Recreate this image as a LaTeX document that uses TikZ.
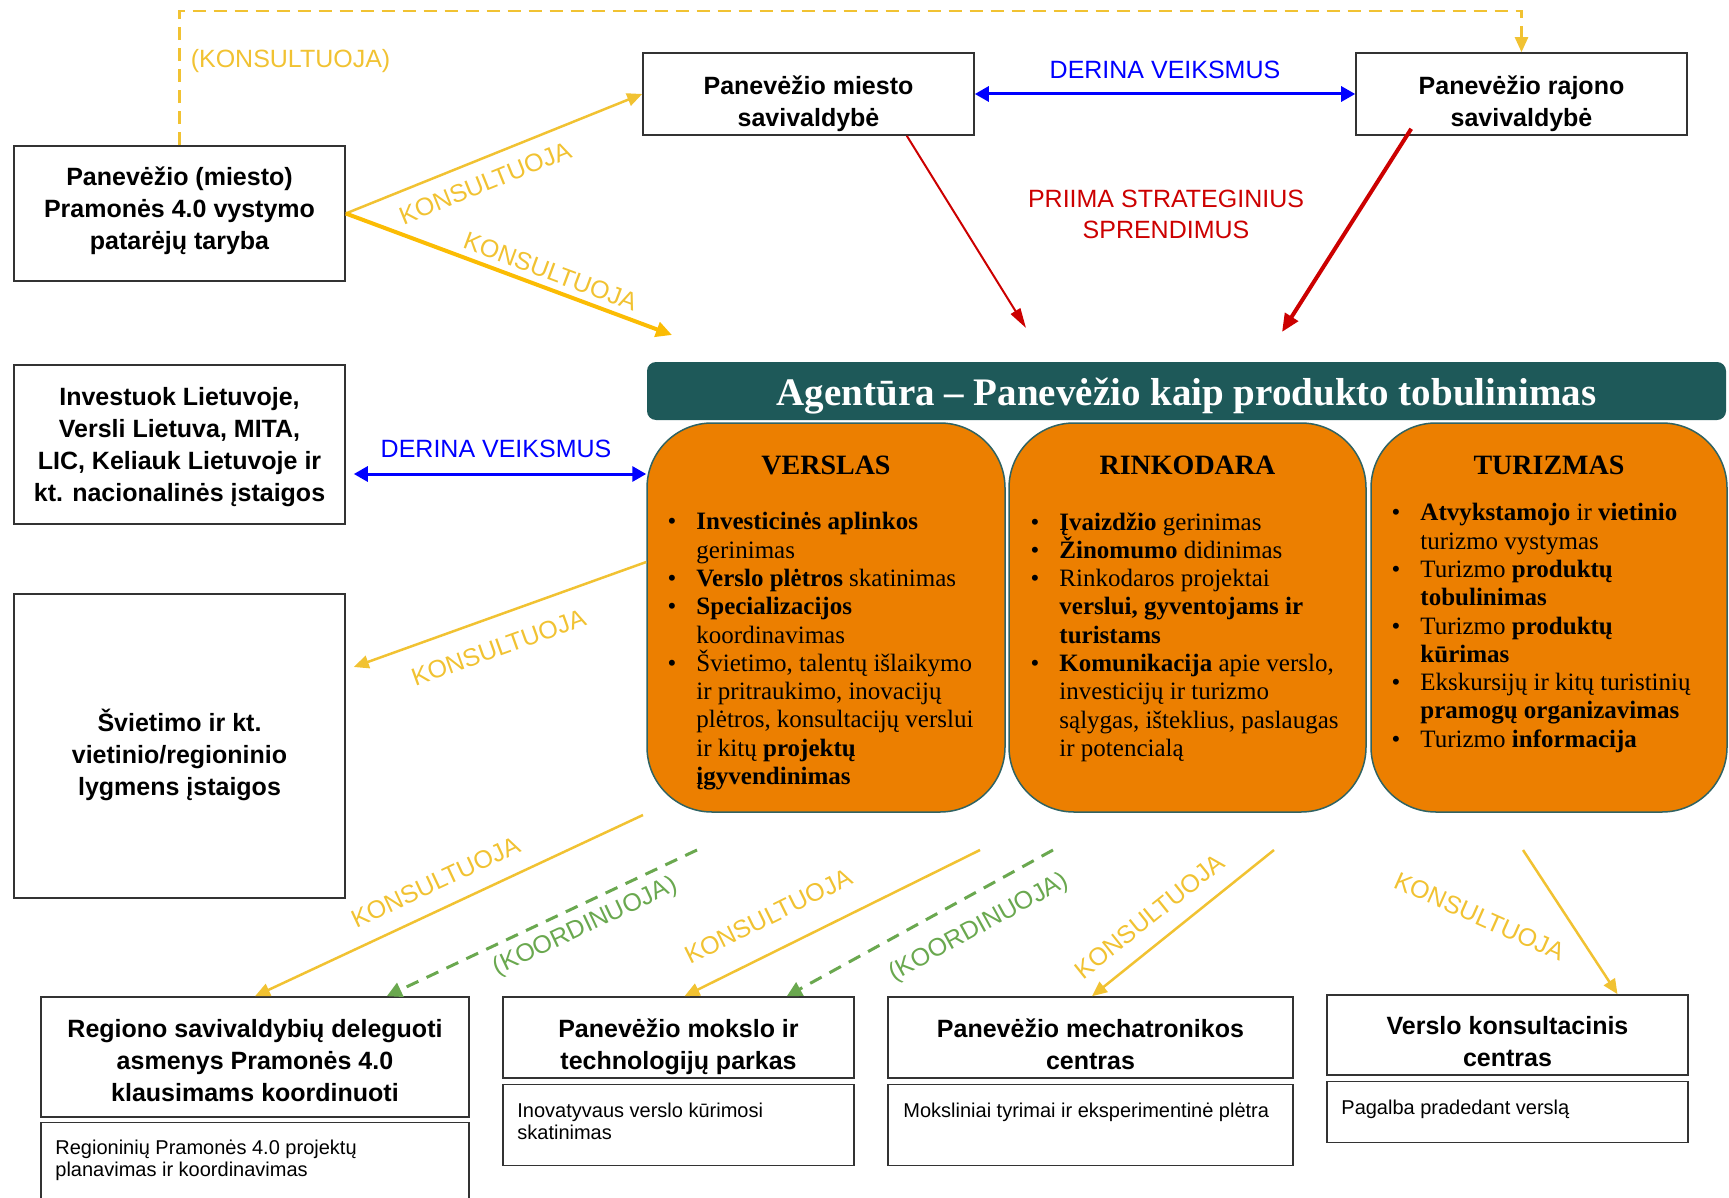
\documentclass[tikz,border=0pt]{standalone}
\usepackage{fontspec}
\setmainfont{Liberation Sans}
\newfontfamily\agencyfont{Liberation Serif}
\usetikzlibrary{arrows.meta,positioning}

\definecolor{boxline}{HTML}{333333}
\definecolor{agencyteal}{HTML}{1E5959}
\definecolor{fieldorange}{HTML}{EC7F00}
\definecolor{fieldline}{HTML}{2F6363}
\definecolor{konsultyellow}{HTML}{F1C232}
\definecolor{strongyellow}{HTML}{FBBC04}
\definecolor{derinablue}{HTML}{0000FF}
\definecolor{priimared}{HTML}{CC0000}
\definecolor{koordgreen}{HTML}{6AA84F}

\newcommand{\itm}{\llap{\textbullet\hspace{20pt}}}

\tikzset{
	plain box/.style={draw=boxline, line width=1.6pt, fill=white, inner sep=0pt},
	box text/.style={align=center, inner sep=0pt, font=\bfseries\fontsize{25}{32}\selectfont},
	note box/.style={draw=boxline, line width=1.6pt, fill=white},
	note text/.style={anchor=north west, align=left, inner sep=0pt, font=\fontsize{20}{22}\selectfont},
	head bar/.style={fill=agencyteal, rounded corners=9pt, minimum width=1079pt, minimum height=58pt},
	head text/.style={inner sep=0pt, text=white, font=\agencyfont\bfseries\fontsize{39}{42}\selectfont},
	field box/.style={draw=fieldline, line width=1.5pt, fill=fieldorange, rounded corners=65pt, minimum height=389pt},
	field title/.style={inner sep=0pt, font=\agencyfont\bfseries\fontsize{28}{30}\selectfont},
	field list/.style={anchor=north west, align=left, inner sep=0pt, font=\agencyfont\fontsize{25}{28.3}\selectfont},
	arrow label/.style={inner sep=0pt, font=\fontsize{25}{31}\selectfont},
	konsult label/.style={arrow label, text=konsultyellow},
	koord label/.style={arrow label, text=koordgreen},
	konsult/.style={draw=konsultyellow, line width=2.5pt, -{Triangle[length=15pt,width=13pt]}},
	konsult strong/.style={draw=strongyellow, line width=4pt, -{Triangle[length=16pt,width=15pt]}},
	konsult dashed/.style={draw=konsultyellow, line width=2.5pt, dash pattern=on 13pt off 8pt, -{Triangle[length=15pt,width=13pt]}},
	koord/.style={draw=koordgreen, line width=3pt, dash pattern=on 13pt off 9pt, -{Triangle[length=15pt,width=15pt]}},
	derina/.style={draw=derinablue, line width=3pt, {Triangle[length=14pt,width=15pt]}-{Triangle[length=14pt,width=15pt]}},
	priima/.style={draw=priimared, line width=2pt, -{Triangle[length=20pt,width=11pt]}},
	priima strong/.style={draw=priimared, line width=4pt, -{Triangle[length=18pt,width=15pt]}},
}

\begin{document}
\begin{tikzpicture}[x=1pt, y=-1pt]
\useasboundingbox (0,0) rectangle (1729,1198);

% top row
\node[plain box, minimum width=331pt, minimum height=135pt] (taryba) at (179.5,213.5) {};
\node[box text] (taryba text) at ([yshift=3pt]taryba.center) {Panevėžio (miesto)\\Pramonės 4.0 vystymo\\patarėjų taryba};
\node[plain box, minimum width=331pt, minimum height=82pt] (miestas) at (808.5,94) {};
\node[box text] (miestas text) at ([yshift=-10pt]miestas.center) {Panevėžio miesto\\savivaldybė};
\node[plain box, minimum width=331pt, minimum height=82pt] (rajonas) at (1521.5,94) {};
\node[box text] (rajonas text) at ([yshift=-10pt]rajonas.center) {Panevėžio rajono\\savivaldybė};

% left column
\node[plain box, minimum width=331pt, minimum height=159pt] (nacionalines) at (179.5,444.5) {};
\node[box text] (nacionalines text) at ([yshift=-3pt]nacionalines.center) {Investuok Lietuvoje,\\Versli Lietuva, MITA,\\LIC, Keliauk Lietuvoje ir\\kt. nacionalinės įstaigos};
\node[plain box, minimum width=331pt, minimum height=304pt] (svietimas) at (179.5,746) {};
\node[box text] (svietimas text) at ([yshift=-9pt]svietimas.center) {Švietimo ir kt.\\vietinio/regioninio\\lygmens įstaigos};

% agency
\node[head bar] (agentura) at (1186.5,391) {};
\node[head text] (agentura text) at ([yshift=-5pt]agentura.center) {Agentūra – Panevėžio kaip produkto tobulinimas};
\node[field box, minimum width=358pt] (verslas) at (826,617.5) {};
\node[field box, minimum width=357pt] (rinkodara) at (1187.5,617.5) {};
\node[field box, minimum width=356pt] (turizmas) at (1549,617.5) {};
\node[field title, below=34pt of verslas.north] (verslas title) {VERSLAS};
\node[field title, below=34pt of rinkodara.north] (rinkodara title) {RINKODARA};
\node[field title, below=34pt of turizmas.north] (turizmas title) {TURIZMAS};

\node[field list] (verslas list) at ([xshift=50pt,yshift=-90pt]verslas.north west) {\itm\textbf{Investicinės aplinkos}\\
gerinimas\\
\itm\textbf{Verslo plėtros} skatinimas\\
\itm\textbf{Specializacijos}\\
koordinavimas\\
\itm Švietimo, talentų išlaikymo\\
ir pritraukimo, inovacijų\\
plėtros, konsultacijų verslui\\
ir kitų \textbf{projektų}\\
\textbf{įgyvendinimas}};
\node[field list] (rinkodara list) at ([xshift=51pt,yshift=-90pt]rinkodara.north west) {\itm\textbf{Įvaizdžio} gerinimas\\
\itm\textbf{Žinomumo} didinimas\\
\itm Rinkodaros projektai\\
\textbf{verslui, gyventojams ir}\\
\textbf{turistams}\\
\itm\textbf{Komunikacija} apie verslo,\\
investicijų ir turizmo\\
sąlygas, išteklius, paslaugas\\
ir potencialą};
\node[field list] (turizmas list) at ([xshift=50pt,yshift=-81pt]turizmas.north west) {\itm\textbf{Atvykstamojo} ir \textbf{vietinio}\\
turizmo vystymas\\
\itm Turizmo \textbf{produktų}\\
\textbf{tobulinimas}\\
\itm Turizmo \textbf{produktų}\\
\textbf{kūrimas}\\
\itm Ekskursijų ir kitų turistinių\\
\textbf{pramogų organizavimas}\\
\itm Turizmo \textbf{informacija}};

% bottom row
\node[plain box, minimum width=428pt, minimum height=120pt] (regiono) at (255,1057) {};
\node[box text] (regiono text) at ([yshift=-4pt]regiono.center) {Regiono savivaldybių deleguoti\\asmenys Pramonės 4.0\\klausimams koordinuoti};
\node[note box, minimum width=428pt, minimum height=82pt, below=4pt of regiono] (regiono note) {};
\node[note text] (regiono note text) at ([xshift=15pt,yshift=-18pt]regiono note.north west) {Regioninių Pramonės 4.0 projektų\\planavimas ir koordinavimas};

\node[plain box, minimum width=351pt, minimum height=81pt] (parkas) at (678.5,1037.5) {};
\node[box text] (parkas text) at ([yshift=-9pt]parkas.center) {Panevėžio mokslo ir\\technologijų parkas};
\node[note box, minimum width=351pt, minimum height=81pt, below=5pt of parkas] (parkas note) {};
\node[note text] (parkas note text) at ([xshift=15pt,yshift=-19pt]parkas note.north west) {Inovatyvaus verslo kūrimosi\\skatinimas};

\node[plain box, minimum width=405pt, minimum height=81pt] (mechatronika) at (1090.5,1037.5) {};
\node[box text] (mechatronika text) at ([yshift=-7pt]mechatronika.center) {Panevėžio mechatronikos\\centras};
\node[note box, minimum width=405pt, minimum height=81pt, below=5pt of mechatronika] (mechatronika note) {};
\node[note text] (mechatronika note text) at ([xshift=16pt,yshift=-19pt]mechatronika note.north west) {Moksliniai tyrimai ir eksperimentinė plėtra};

\node[plain box, minimum width=361pt, minimum height=80pt] (konsultacinis) at (1507.5,1035) {};
\node[box text] (konsultacinis text) at ([yshift=-7pt]konsultacinis.center) {Verslo konsultacinis\\centras};
\node[note box, minimum width=361pt, minimum height=61pt, below=5pt of konsultacinis] (konsultacinis note) {};
\node[note text] (konsultacinis note text) at ([xshift=15pt,yshift=-19pt]konsultacinis note.north west) {Pagalba pradedant verslą};

% free ends
\coordinate (agentura in) at (672,335);
\coordinate (priima left) at (1026,328);
\coordinate (priima right) at (1282,332);
\coordinate (derina start) at ([yshift=-29.5pt]nacionalines.east);
\coordinate (verslas out) at (643,815);
\coordinate (koord out a) at (697,850);
\coordinate (konsult out b) at (980,850);
\coordinate (koord out b) at (1053,850);
\coordinate (konsult out c) at (1274,850);
\coordinate (konsult out d) at (1523,850);

% connectors
\draw[konsult dashed] (taryba.north) -- node[konsult label, right=10pt, pos=0.63] {(KONSULTUOJA)} ++(0,-134) -| (rajonas.north);
\draw[konsult] (taryba.east) -- node[konsult label, sloped, pos=0.44, below=13.7pt] {KONSULTUOJA} (miestas.west);
\draw[konsult strong] (taryba.east) -- node[konsult label, sloped, pos=0.61, above=6pt] {KONSULTUOJA} (agentura in);
\draw[derina] (miestas.east) -- node[arrow label, text=derinablue, above=14pt] {DERINA VEIKSMUS} (rajonas.west);
\draw[priima] ([xshift=-68pt]miestas.south east) -- (priima left);
\draw[priima strong] ([xshift=56pt,yshift=7pt]rajonas.south west) -- (priima right);
\node[arrow label, text=priimared, align=center] (priima text) at (1166,214) {PRIIMA STRATEGINIUS\\SPRENDIMUS};

\draw[derina, shorten <=8pt] (derina start) -- node[arrow label, text=derinablue, above=15pt] {DERINA VEIKSMUS} (derina start -| verslas.west);
\draw[konsult] ([yshift=55.5pt]verslas.west) -- node[konsult label, sloped, pos=0.54, below=20.4pt] {KONSULTUOJA} ([xshift=8pt,yshift=79pt]svietimas.east);

\draw[konsult] (verslas out) -- node[konsult label, sloped, pos=0.505, above=17pt] {KONSULTUOJA} (regiono.north);
\draw[koord] (koord out a) -- node[koord label, sloped, pos=0.39, below=8.8pt] {(KOORDINUOJA)} ([xshift=-83pt]regiono.north east);
\draw[konsult] (konsult out b) -- node[konsult label, sloped, pos=0.664, above=24.4pt] {KONSULTUOJA} ([xshift=6pt]parkas.north);
\draw[koord] (koord out b) -- node[koord label, sloped, pos=0.336, below=19.2pt] {(KOORDINUOJA)} ([xshift=-68pt]parkas.north east);
\draw[konsult] (konsult out c) -- node[konsult label, sloped, pos=0.594, above=16.3pt] {KONSULTUOJA} ([xshift=1.5pt]mechatronika.north);
\draw[konsult] (konsult out d) -- node[konsult label, pos=0.46, xshift=-87pt, rotate=-24] {KONSULTUOJA} ([xshift=110pt]konsultacinis.north);

\end{tikzpicture}
\end{document}
